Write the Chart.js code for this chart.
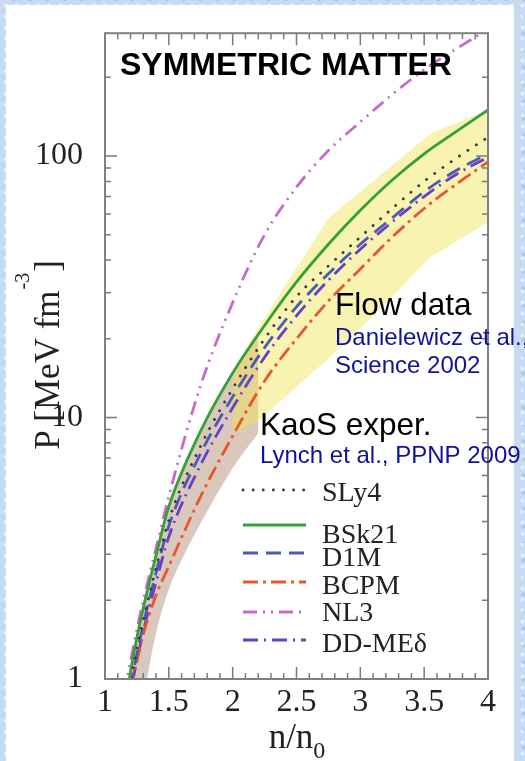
<!DOCTYPE html>
<html>
<head>
<meta charset="utf-8">
<title>Symmetric matter EoS</title>
<script src="https://cdn.jsdelivr.net/npm/chart.js@4.4.1/dist/chart.umd.min.js"></script>
<style>
  html, body { margin: 0; padding: 0; }
  body {
    width: 525px; height: 761px; overflow: hidden; position: relative;
    background-color: #c6daf0;
    background-image:
      radial-gradient(circle, rgba(255,255,255,0.55) 0 1.5px, transparent 2.5px),
      radial-gradient(circle, rgba(140,170,215,0.4) 0 1.5px, transparent 2.5px);
    background-size: 11px 11px, 17px 17px;
    background-position: 0 0, 5px 8px;
  }
  #panel { position: absolute; left: 6px; top: 5px; width: 508px; height: 756px; background: #fff; }
  #eos { position: absolute; left: 0; top: 0; }
</style>
</head>
<body>
<div id="panel"></div>
<canvas id="eos" width="525" height="761"></canvas>
<script>
// Pressure of symmetric nuclear matter (MeV fm^-3) against density n/n0
const density = [1.15, 1.2, 1.25, 1.3, 1.4, 1.5, 1.75, 2.0, 2.25, 2.5, 2.75, 3.0, 3.25, 3.5, 3.75, 4.0];

const pSLy4  = [0.65, 0.96, 1.3, 1.68, 2.65, 4.05, 7.8, 12.9, 20, 29, 38, 49, 63, 80, 98, 118];
const pBSk21 = [0.72, 1.07, 1.44, 1.87, 2.97, 4.57, 8.9, 14.8, 22.5, 33, 46, 62, 81, 102, 124, 150];
const pD1M   = [0.62, 0.93, 1.25, 1.62, 2.55, 3.85, 7.3, 12, 18.5, 26.5, 35.5, 46, 58, 73, 88, 102];
const pBCPM  = [0.56, 0.87, 1.17, 1.48, 2.09, 2.7, 5.0, 8.5, 13.8, 20, 27.9, 37, 49, 63, 78, 95];
const pNL3   = [0.87, 1.17, 1.55, 2.0, 3.16, 5.0, 13.3, 27.5, 50, 76, 105, 135, 172, 214, 257, 305];
const pDDME  = [0.58, 0.88, 1.18, 1.52, 2.35, 3.5, 6.6, 10.9, 17, 24.5, 33.5, 44, 56, 70, 85, 99];

// flow constraint (Danielewicz et al.)
const flowDensity = [2.0, 2.2, 2.75, 3.0, 3.55, 4.0];
const flowUpper   = [15, 22, 58, 73, 122, 150];
const flowLower   = [8.7, 9.7, 16.8, 21.8, 41, 56];

// kaon production constraint (KaoS)
const kaosDensity = [1.2, 1.25, 1.3, 1.33, 1.4, 1.5, 1.6, 1.75, 2.0, 2.2];
const kaosUpper   = [1.07, 1.44, 1.87, 2.2, 2.97, 4.57, 6.2, 8.9, 14.8, 21];
const kaosLower   = [0.4, 0.55, 0.78, 1.0, 1.5, 2.2, 2.85, 3.95, 6.4, 8.7];

const xTicks = [1, 1.5, 2, 2.5, 3, 3.5, 4];
const yTicks = [1, 10, 100];

const serif = '"Liberation Serif", "Times New Roman", serif';
const sans = '"Liberation Sans", Arial, sans-serif';

function points(xs, ys) {
  return xs.map((x, i) => ({ x: x, y: ys[i] }));
}

const models = [
  { label: 'SLy4',   data: pSLy4,  color: '#3a3a3a', dash: [0.1, 10],              cap: 'round' },
  { label: 'BSk21',  data: pBSk21, color: '#34a036', dash: [],                     cap: 'butt' },
  { label: 'D1M',    data: pD1M,   color: '#4a5bb2', dash: [15, 8],                cap: 'butt' },
  { label: 'BCPM',   data: pBCPM,  color: '#e8552e', dash: [15, 5, 3, 5],          cap: 'butt' },
  { label: 'NL3',    data: pNL3,   color: '#c86ac8', dash: [14, 6, 2, 6, 2, 6],    cap: 'butt' },
  { label: 'DD-MEδ', data: pDDME,  color: '#6a3fc4', dash: [15, 6, 2, 6],          cap: 'butt' }
];

const bandStyle = { borderWidth: 0, pointRadius: 0, order: 10 };

const datasets = [
  Object.assign({ data: points(flowDensity, flowUpper), fill: false, tension: 0 }, bandStyle),
  Object.assign({ data: points(flowDensity, flowLower), fill: '-1', tension: 0,
                  backgroundColor: 'rgba(240, 228, 80, 0.45)' }, bandStyle),
  Object.assign({ data: points(kaosDensity, kaosUpper), fill: false,
                  cubicInterpolationMode: 'monotone' }, bandStyle),
  Object.assign({ data: points(kaosDensity, kaosLower), fill: '-1',
                  cubicInterpolationMode: 'monotone',
                  backgroundColor: 'rgba(160, 110, 80, 0.38)' }, bandStyle)
];

models.forEach(m => {
  datasets.push({
    label: m.label,
    data: points(density, m.data),
    borderColor: m.color,
    borderWidth: 2.8,
    borderDash: m.dash,
    borderCapStyle: m.cap,
    pointRadius: 0,
    fill: false,
    cubicInterpolationMode: 'monotone',
    inLegend: true,
    order: 0
  });
});

// inward tick marks on all four sides plus the box
const frameTicks = {
  id: 'frameTicks',
  afterDatasetsDraw(chart) {
    const { ctx, chartArea: a, scales: { x, y } } = chart;
    ctx.save();
    ctx.strokeStyle = '#7a7a7a';
    ctx.lineWidth = 1.5;
    ctx.beginPath();
    for (let i = 10; i <= 40; i++) {
      const px = x.getPixelForValue(i / 10);
      const len = i % 5 === 0 ? 12 : 6;
      ctx.moveTo(px, a.bottom); ctx.lineTo(px, a.bottom - len);
      ctx.moveTo(px, a.top); ctx.lineTo(px, a.top + len);
    }
    for (let d = 1; d <= 100; d *= 10) {
      for (let k = 1; k <= 9; k++) {
        const v = k * d;
        if (v > y.max) break;
        const py = y.getPixelForValue(v);
        const len = k === 1 ? 12 : 6;
        ctx.moveTo(a.left, py); ctx.lineTo(a.left + len, py);
        ctx.moveTo(a.right, py); ctx.lineTo(a.right - len, py);
      }
    }
    ctx.stroke();
    ctx.lineWidth = 2;
    ctx.strokeStyle = '#808080';
    ctx.strokeRect(a.left, a.top, a.right - a.left, a.bottom - a.top);
    ctx.restore();
  }
};

// legend drawn inside the plot, lower right
const insideLegend = {
  id: 'insideLegend',
  afterDraw(chart) {
    const ctx = chart.ctx;
    const lineY = [490, 525, 553, 582, 612, 640];
    const textY = [501, 543, 566, 594, 621, 652];
    const items = chart.data.datasets.filter(ds => ds.inLegend);
    ctx.save();
    ctx.font = '28px ' + serif;
    ctx.fillStyle = '#222';
    ctx.textBaseline = 'alphabetic';
    items.forEach((ds, i) => {
      ctx.beginPath();
      ctx.strokeStyle = ds.borderColor;
      ctx.lineWidth = ds.borderWidth;
      ctx.lineCap = ds.borderCapStyle;
      ctx.setLineDash(ds.borderDash);
      ctx.moveTo(243, lineY[i]);
      ctx.lineTo(306, lineY[i]);
      ctx.stroke();
      ctx.setLineDash([]);
      ctx.fillText(ds.label, 322, textY[i]);
    });
    ctx.restore();
  }
};

// axis titles and the text notes
const notes = {
  id: 'notes',
  afterDraw(chart) {
    const ctx = chart.ctx;
    ctx.save();
    ctx.fillStyle = '#222';

    // y title with superscript
    ctx.save();
    ctx.translate(59, 355);
    ctx.rotate(-Math.PI / 2);
    ctx.font = '35px ' + serif;
    const main = 'P [MeV fm';
    const wMain = ctx.measureText(main).width;
    const wEnd = ctx.measureText(']').width;
    ctx.font = '20px ' + serif;
    const wSup = ctx.measureText('-3').width;
    const u = -(wMain + wSup + wEnd + 2) / 2;
    ctx.font = '35px ' + serif;
    ctx.fillText(main, u, 0);
    ctx.font = '20px ' + serif;
    ctx.fillText('-3', u + wMain + 1, -30);
    ctx.font = '35px ' + serif;
    ctx.fillText(']', u + wMain + wSup + 2, 0);
    ctx.restore();

    // x title with subscript
    ctx.font = '35px ' + serif;
    const wn = ctx.measureText('n/n').width;
    ctx.font = '24px ' + serif;
    const w0 = ctx.measureText('0').width;
    const xs = 297 - (wn + w0) / 2;
    ctx.font = '35px ' + serif;
    ctx.fillText('n/n', xs, 748);
    ctx.font = '24px ' + serif;
    ctx.fillText('0', xs + wn, 758);

    ctx.fillStyle = '#000';
    ctx.font = 'bold 32px ' + sans;
    ctx.fillText('SYMMETRIC MATTER', 120, 75);
    ctx.font = '31.5px ' + sans;
    ctx.fillText('Flow data', 335, 315);
    ctx.fillText('KaoS exper.', 260, 435);
    ctx.fillStyle = '#10109a';
    ctx.font = '24px ' + sans;
    ctx.fillText('Danielewicz et al.,', 335, 345);
    ctx.fillText('Science 2002', 335, 373);
    ctx.fillText('Lynch et al., PPNP 2009', 260, 463);
    ctx.restore();
  }
};

new Chart(document.getElementById('eos'), {
  type: 'line',
  data: { datasets: datasets },
  options: {
    responsive: false,
    animation: false,
    layout: { padding: { top: 22, right: 37, left: 0, bottom: 0 } },
    scales: {
      x: {
        type: 'linear',
        min: 1,
        max: 4,
        afterBuildTicks: s => { s.ticks = xTicks.map(v => ({ value: v })); },
        afterFit: s => { s.height = 82; },
        ticks: {
          color: '#222',
          font: { family: serif, size: 32 },
          padding: -4,
          maxRotation: 0,
          autoSkip: false,
          callback: v => String(v)
        },
        grid: { display: false },
        border: { display: false }
      },
      y: {
        type: 'logarithmic',
        min: 1,
        max: 295,
        afterBuildTicks: s => { s.ticks = yTicks.map(v => ({ value: v })); },
        afterFit: s => { s.width = 105; },
        ticks: {
          color: '#222',
          font: { family: serif, size: 32 },
          padding: 14,
          autoSkip: false,
          callback: v => String(v)
        },
        grid: { display: false },
        border: { display: false }
      }
    },
    plugins: {
      legend: { display: false },
      tooltip: { enabled: false }
    }
  },
  plugins: [frameTicks, insideLegend, notes]
});
</script>
</body>
</html>
